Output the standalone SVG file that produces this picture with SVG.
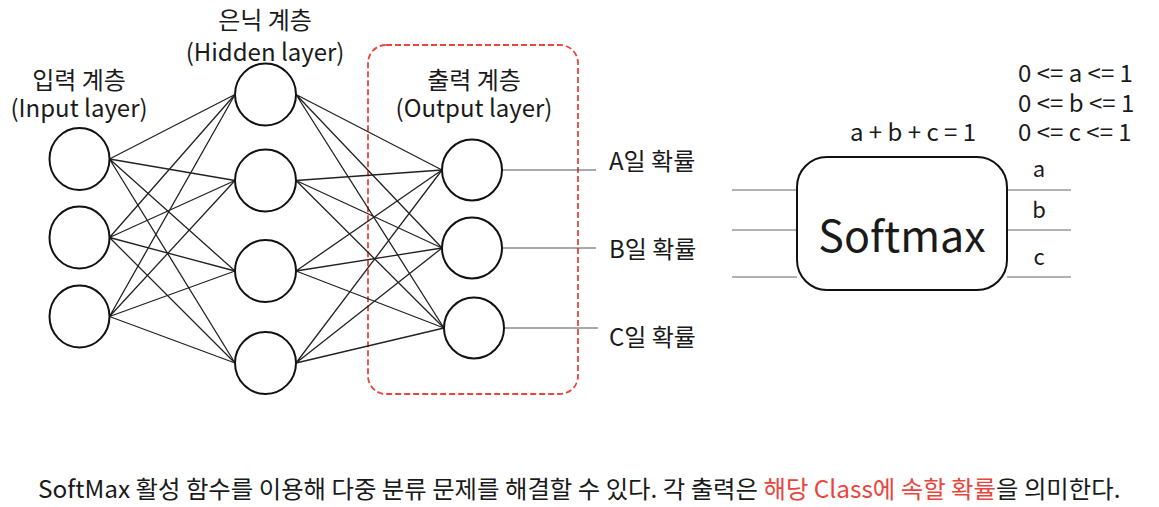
<svg xmlns="http://www.w3.org/2000/svg" width="1159" height="507" viewBox="0 0 1159 507">
<defs>
<style>
text{font-family:"Noto Sans CJK KR","Noto Sans",sans-serif;fill:#1a1a1a}
.lbl{font-size:24px;text-anchor:middle}
.neu{fill:#fff;stroke:#111;stroke-width:2}
.w{stroke:#222;stroke-width:1.3;fill:none}
.out{stroke:#555;stroke-width:1}
.sm{stroke:#999;stroke-width:1.5}
.eq{font-size:24px}
.pl{font-size:24px}
.red{fill:#e8453c}
</style>
</defs>
<rect width="1159" height="507" fill="#fff"/>
<g id="output-box">
<rect x="368" y="45" width="210" height="349" rx="18" fill="none" stroke="#e8453c" stroke-width="1.8" stroke-dasharray="6 3"/>
</g>
<g id="connectors">
<g class="w">
<path d="M109.5 159L235 94.5M109.5 159L235 180.5M109.5 159L235 271M109.5 159L235 363"/>
<path d="M109.5 237.5L235 94.5M109.5 237.5L235 180.5M109.5 237.5L235 271M109.5 237.5L235 363"/>
<path d="M109.5 316.5L235 94.5M109.5 316.5L235 180.5M109.5 316.5L235 271M109.5 316.5L235 363"/>
<path d="M296 94.5L442 170M296 94.5L442 248M296 94.5L444 328"/>
<path d="M296 180.5L442 170M296 180.5L442 248M296 180.5L444 328"/>
<path d="M296 271L442 170M296 271L442 248M296 271L444 328"/>
<path d="M296 363L442 170M296 363L442 248M296 363L444 328"/>
</g>
<g class="out">
<line x1="502" y1="170" x2="596" y2="170"/>
<line x1="502" y1="248" x2="596" y2="248"/>
<line x1="504" y1="328" x2="598" y2="328"/>
</g>
<g class="sm">
<line x1="732" y1="190" x2="797" y2="190"/>
<line x1="732" y1="230" x2="797" y2="230"/>
<line x1="732" y1="277" x2="797" y2="277"/>
<line x1="1007" y1="190" x2="1071" y2="190"/>
<line x1="1007" y1="230" x2="1071" y2="230"/>
<line x1="1007" y1="277" x2="1071" y2="277"/>
</g>
</g>
<g id="input-layer">
<text class="lbl" x="79" y="89">입력 계층</text>
<text class="lbl" x="79" y="117">(Input layer)</text>
<ellipse class="neu" cx="79.5" cy="159" rx="30" ry="31"/>
<ellipse class="neu" cx="79.5" cy="237.5" rx="30" ry="31"/>
<ellipse class="neu" cx="79.5" cy="316.5" rx="30" ry="31"/>
</g>
<g id="hidden-layer">
<text class="lbl" x="265" y="29">은닉 계층</text>
<text class="lbl" x="265" y="61">(Hidden layer)</text>
<ellipse class="neu" cx="265.5" cy="94.5" rx="30.5" ry="31"/>
<ellipse class="neu" cx="265.5" cy="180.5" rx="30.5" ry="31"/>
<ellipse class="neu" cx="265.5" cy="271" rx="30.5" ry="31"/>
<ellipse class="neu" cx="265.5" cy="363" rx="30.5" ry="31"/>
</g>
<g id="output-layer">
<text class="lbl" x="474" y="89">출력 계층</text>
<text class="lbl" x="474" y="117">(Output layer)</text>
<ellipse class="neu" cx="472" cy="170" rx="30" ry="30.5"/>
<ellipse class="neu" cx="472" cy="248" rx="30" ry="30.5"/>
<ellipse class="neu" cx="474" cy="328" rx="30" ry="30.5"/>
</g>
<g id="prob-labels">
<text class="pl" x="609" y="170">A일 확률</text>
<text class="pl" x="609" y="258">B일 확률</text>
<text class="pl" x="609" y="346">C일 확률</text>
</g>
<g id="softmax">
<rect x="797" y="157" width="210" height="133" rx="30" fill="#fff" stroke="#111" stroke-width="2"/>
<text x="902" y="252" style="font-size:43px;text-anchor:middle">Softmax</text>
<text x="1039" y="177" text-anchor="middle" style="font-size:22px">a</text>
<text x="1039" y="218" text-anchor="middle" style="font-size:22px">b</text>
<text x="1039" y="265" text-anchor="middle" style="font-size:22px">c</text>
<text class="eq" x="913" y="141" text-anchor="middle">a + b + c = 1</text>
<text class="eq" x="1018" y="82">0 &lt;= a &lt;= 1</text>
<text class="eq" x="1018" y="112">0 &lt;= b &lt;= 1</text>
<text class="eq" x="1018" y="141">0 &lt;= c &lt;= 1</text>
</g>
<g id="caption">
<text x="38" y="498" style="font-size:24.4px">SoftMax 활성 함수를 이용해 다중 분류 문제를 해결할 수 있다. 각 출력은 <tspan class="red">해당 Class에 속할 확률</tspan>을 의미한다.</text>
</g>
</svg>
